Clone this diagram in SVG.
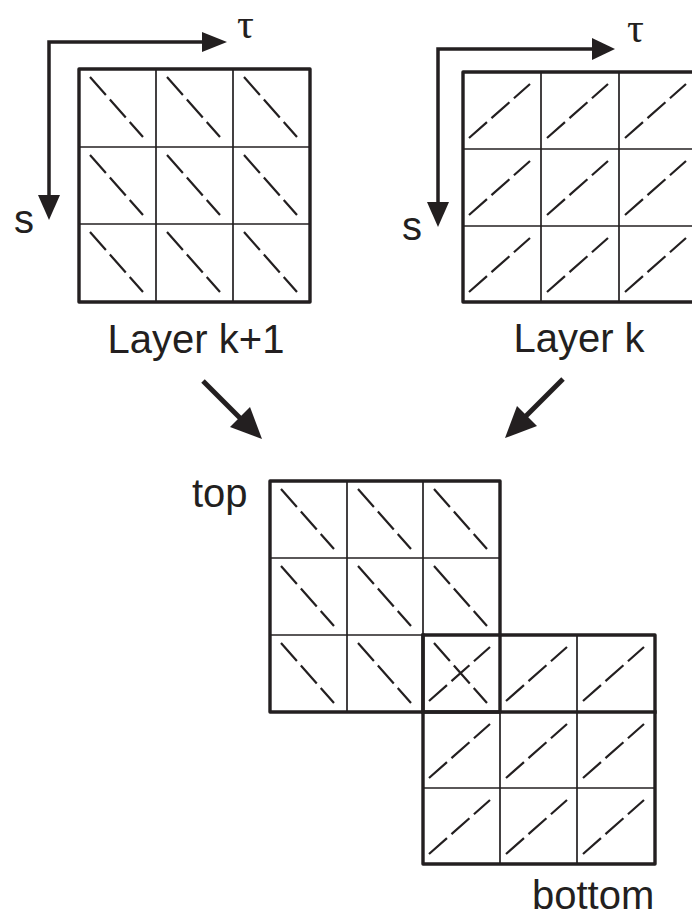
<svg xmlns="http://www.w3.org/2000/svg" width="692" height="918" viewBox="0 0 692 918">
  <style>
    .bg { fill: #ffffff; }
    .border { fill: none; stroke: #231f20; stroke-width: 3.4; stroke-linejoin: round; }
    .thick { stroke: #231f20; stroke-width: 3.4; stroke-linecap: square; }
    .thin { stroke: #231f20; stroke-width: 1.7; }
    .dash { stroke: #231f20; stroke-width: 2.2; stroke-dasharray: 24 6; fill: none; }
    .axis { stroke: #231f20; stroke-width: 3.5; fill: none; stroke-linejoin: miter; }
    .flow { stroke: #231f20; stroke-width: 5; fill: none; }
    .head { fill: #231f20; }
    .label { font-family: "Liberation Sans", Arial, sans-serif; font-size: 40px; fill: #231f20; }
    .greek { font-family: "Liberation Serif", "DejaVu Serif", serif; font-size: 42px; fill: #231f20; }
  </style>
  <defs>
    <!-- diagonal dashed strokes, one per cell, placed by translate -->
    <line id="back" class="dash" x1="11" y1="8" x2="64" y2="68"/>
    <line id="fwd" class="dash" x1="6" y1="66" x2="67" y2="12"/>
  </defs>

  <rect class="bg" x="0" y="0" width="692" height="918"/>

  <!-- Layer k+1: 3x3 grid with "\" diagonals -->
  <g id="layer-k1">
    <line class="thin" x1="156" y1="69" x2="156" y2="302"/>
    <line class="thin" x1="233" y1="69" x2="233" y2="302"/>
    <line class="thin" x1="79" y1="147" x2="310" y2="147"/>
    <line class="thin" x1="79" y1="224" x2="310" y2="224"/>
    <use href="#back" x="79" y="69"/>
    <use href="#back" x="156" y="69"/>
    <use href="#back" x="233" y="69"/>
    <use href="#back" x="79" y="147"/>
    <use href="#back" x="156" y="147"/>
    <use href="#back" x="233" y="147"/>
    <use href="#back" x="79" y="224"/>
    <use href="#back" x="156" y="224"/>
    <use href="#back" x="233" y="224"/>
    <rect class="border" x="79" y="69" width="231" height="233"/>
    <text class="label" x="196" y="353" text-anchor="middle">Layer k+1</text>
  </g>

  <!-- Layer k: 3x3 grid with "/" diagonals -->
  <g id="layer-k">
    <line class="thin" x1="541" y1="72" x2="541" y2="302"/>
    <line class="thin" x1="619" y1="72" x2="619" y2="302"/>
    <line class="thin" x1="463" y1="149" x2="697" y2="149"/>
    <line class="thin" x1="463" y1="226" x2="697" y2="226"/>
    <use href="#fwd" x="463" y="72"/>
    <use href="#fwd" x="541" y="72"/>
    <use href="#fwd" x="619" y="72"/>
    <use href="#fwd" x="463" y="149"/>
    <use href="#fwd" x="541" y="149"/>
    <use href="#fwd" x="619" y="149"/>
    <use href="#fwd" x="463" y="226"/>
    <use href="#fwd" x="541" y="226"/>
    <use href="#fwd" x="619" y="226"/>
    <rect class="border" x="463" y="72" width="234" height="230"/>
    <text class="label" x="579" y="352" text-anchor="middle">Layer k</text>
  </g>

  <!-- axes for both layers -->
  <g id="axes-left">
    <path class="axis" d="M204,42 H49 V197"/>
    <polygon class="head" points="202,32 227,42 202,52"/>
    <polygon class="head" points="38,195 49,220 60,195"/>
    <text class="greek" x="237" y="38">τ</text>
    <text class="label" x="14" y="233">s</text>
  </g>
  <g id="axes-right">
    <path class="axis" d="M594,49 H438 V204"/>
    <polygon class="head" points="592,38 615,49 592,60"/>
    <polygon class="head" points="427,202 438,227 449,202"/>
    <text class="greek" x="627" y="42">τ</text>
    <text class="label" x="402" y="240">s</text>
  </g>

  <!-- connectors: the two layers merge into the stack below -->
  <g id="connectors">
    <line class="flow" x1="203" y1="381" x2="242" y2="420"/>
    <polygon class="head" points="262,439 230,427 250,407"/>
    <line class="flow" x1="563" y1="379" x2="524" y2="418"/>
    <polygon class="head" points="505,438 517,406 537,426"/>
  </g>

  <!-- stacked layers: top (k+1) overlapping bottom (k) -->
  <g id="stack-top">
    <line class="thin" x1="347" y1="481" x2="347" y2="712"/>
    <line class="thin" x1="423" y1="481" x2="423" y2="635"/>
    <line class="thin" x1="270" y1="558" x2="500" y2="558"/>
    <line class="thin" x1="270" y1="635" x2="423" y2="635"/>
    <use href="#back" x="270" y="481"/>
    <use href="#back" x="347" y="481"/>
    <use href="#back" x="423" y="481"/>
    <use href="#back" x="270" y="558"/>
    <use href="#back" x="347" y="558"/>
    <use href="#back" x="423" y="558"/>
    <use href="#back" x="270" y="635"/>
    <use href="#back" x="347" y="635"/>
    <use href="#back" x="423" y="635"/>
    <text class="label" x="192" y="507">top</text>
  </g>
  <g id="stack-bottom">
    <line class="thin" x1="500" y1="712" x2="500" y2="864"/>
    <line class="thin" x1="577" y1="635" x2="577" y2="864"/>
    <line class="thin" x1="423" y1="788" x2="655" y2="788"/>
    <use href="#fwd" x="423" y="635"/>
    <use href="#fwd" x="500" y="635"/>
    <use href="#fwd" x="577" y="635"/>
    <use href="#fwd" x="423" y="712"/>
    <use href="#fwd" x="500" y="712"/>
    <use href="#fwd" x="577" y="712"/>
    <use href="#fwd" x="423" y="788"/>
    <use href="#fwd" x="500" y="788"/>
    <use href="#fwd" x="577" y="788"/>
    <line class="thick" x1="423" y1="712" x2="655" y2="712"/>
    <line class="thick" x1="423" y1="635" x2="423" y2="712"/>
    <rect class="border" x="270" y="481" width="230" height="231"/>
    <rect class="border" x="423" y="635" width="232" height="229"/>
    <text class="label" x="532" y="909">bottom</text>
  </g>
</svg>
